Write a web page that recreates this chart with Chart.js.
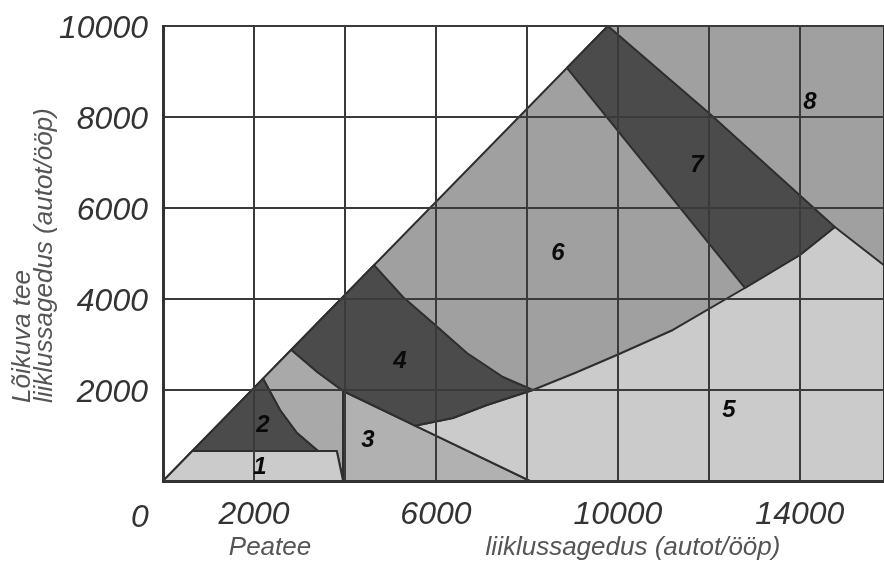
<!DOCTYPE html>
<html lang="et">
<head>
<meta charset="UTF-8">
<title>Ristmiku tüübi valik</title>
<style>
  body { margin: 0; background: #fff; }
  #wrap { width: 884px; height: 561px; position: relative; }
</style>
</head>
<body>
<div id="wrap"><canvas id="myChart"></canvas></div>

<script src="https://cdn.jsdelivr.net/npm/chart.js"></script>
<script>
// telje väärtused (autot/ööp)
const xMax = 15850;
const yMax = 10000;
const xGrid = [0, 2000, 4000, 6000, 8000, 10000, 12000, 14000];
const xTickLabels = [2000, 6000, 10000, 14000];

// piirkondade tipud: [peatee, lõikuv tee]
const alus    = [[0,0],[9780,10000],[15850,10000],[15850,0]];           // 6 ja 8
const vahe    = [[2200,2250],[2820,2885],[3400,2390],[3960,1978],[3960,0],[3820,660],[3407,660],[2945,1055],[2571,1560]];
const ala1    = [[0,0],[645,660],[3820,660],[3960,0]];
const ala2    = [[645,660],[2200,2250],[2571,1560],[2945,1055],[3407,660]];
const ala3    = [[3960,0],[3960,1978],[5540,1215],[8070,0]];
const ala4    = [[2820,2885],[4640,4745],[5275,4044],[5934,3473],[6681,2813],[7473,2286],[8130,2000],
                 [7121,1670],[6374,1385],[5540,1215],[3960,1978],[3400,2390]];
const ala5    = [[5540,1215],[6374,1385],[7121,1670],[8130,2000],[9055,2374],[9978,2769],[11209,3319],
                 [12791,4242],[14000,4967],[14769,5582],[15850,4744],[15850,0],[8070,0]];
const ala7    = [[8880,9080],[9780,10000],[12000,8088],[14769,5582],[14000,4967],[12791,4242]];

// piirkondade numbrid
const alaNimed = ['1','2','3','4','5','6','7','8'];
const alaX = [2132, 2198, 4505, 5209, 12440, 8681, 11736, 14220];
const alaY = [308, 1231, 901, 2637, 1560, 5011, 6945, 8330];

const tume = '#4b4b4b';
const kesk = '#a0a0a0';
const hele = '#cbcbcb';

function kujund(punktid, varv, jrk) {
    let data = punktid.map(p => ({ x: p[0], y: p[1] }));
    data.push({ x: punktid[0][0], y: punktid[0][1] }); // sulgeme
    return {
        data: data,
        showLine: true,
        fill: 'shape',
        backgroundColor: varv,
        borderColor: '#2e2e2e',
        borderWidth: 2,
        borderJoinStyle: 'round',
        pointRadius: 0,
        tension: 0,
        order: jrk
    };
}

const font = '"Liberation Sans", Arial, sans-serif';

// tekstid mis ei ole telgede osa
const tekstid = {
    id: 'tekstid',
    afterDraw(chart) {
        const ctx = chart.ctx;
        const x = chart.scales.x, y = chart.scales.y;
        const ca = chart.chartArea;
        ctx.save();
        ctx.textAlign = 'center';
        ctx.textBaseline = 'middle';

        ctx.fillStyle = '#0a0a0a';
        ctx.font = 'italic bold 24px ' + font;
        for (let i = 0; i < alaNimed.length; i++) {
            ctx.fillText(alaNimed[i], x.getPixelForValue(alaX[i]), y.getPixelForValue(alaY[i]));
        }

        ctx.fillStyle = '#333';
        ctx.font = 'italic 32px ' + font;
        ctx.fillText('0', ca.left - 23, ca.bottom + 37);

        ctx.fillStyle = '#555';
        ctx.font = 'italic 26px ' + font;
        ctx.fillText('Peatee', 270, 548);
        ctx.fillText('liiklussagedus (autot/ööp)', 633, 548);

        ctx.textAlign = 'left';
        ctx.translate(23, 403);
        ctx.rotate(-Math.PI / 2);
        ctx.fillText('Lõikuva tee', 0, 0);
        ctx.fillText('liiklussagedus (autot/ööp)', 0, 22);
        ctx.restore();
    }
};

const config = {
    type: 'scatter',
    data: {
        datasets: [
            kujund(ala7, tume, 1),
            kujund(ala4, tume, 1),
            kujund(ala2, tume, 1),
            kujund(ala1, hele, 2),
            kujund(ala5, hele, 2),
            kujund(ala3, '#b1b1b1', 3),
            kujund(vahe, '#a9a9a9', 3),
            kujund(alus, kesk, 4)
        ]
    },
    options: {
        responsive: true,
        maintainAspectRatio: false,
        animation: false,
        layout: { padding: { top: 26, right: 0, left: 0, bottom: 0 } },
        plugins: { legend: { display: false }, tooltip: { enabled: false } },
        scales: {
            x: {
                type: 'linear',
                min: 0,
                max: xMax,
                grid: { color: '#3a3a3a', lineWidth: 2, drawTicks: false, z: 1 },
                border: { color: '#333', width: 3, z: 2 },
                ticks: {
                    autoSkip: false,
                    maxRotation: 0,
                    padding: 15,
                    color: '#333',
                    font: { family: font, size: 32, style: 'italic' },
                    callback: v => xTickLabels.includes(v) ? String(v) : ''
                },
                afterBuildTicks: s => { s.ticks = xGrid.map(v => ({ value: v })); },
                afterFit: s => { s.height = 80; s.paddingLeft = 0; s.paddingRight = 0; }
            },
            y: {
                min: 0,
                max: yMax,
                grid: { color: '#3a3a3a', lineWidth: 2, drawTicks: false, z: 1 },
                border: { color: '#333', width: 3, z: 2 },
                ticks: {
                    stepSize: 2000,
                    padding: 15,
                    labelOffset: 3,
                    color: '#333',
                    font: { family: font, size: 32, style: 'italic' },
                    callback: v => v === 0 ? '' : String(v)
                },
                afterFit: s => { s.width = 163; s.paddingTop = 0; s.paddingBottom = 0; }
            }
        }
    },
    plugins: [tekstid]
};

let myChart = new Chart(document.getElementById('myChart'), config);
</script>
</body>
</html>
